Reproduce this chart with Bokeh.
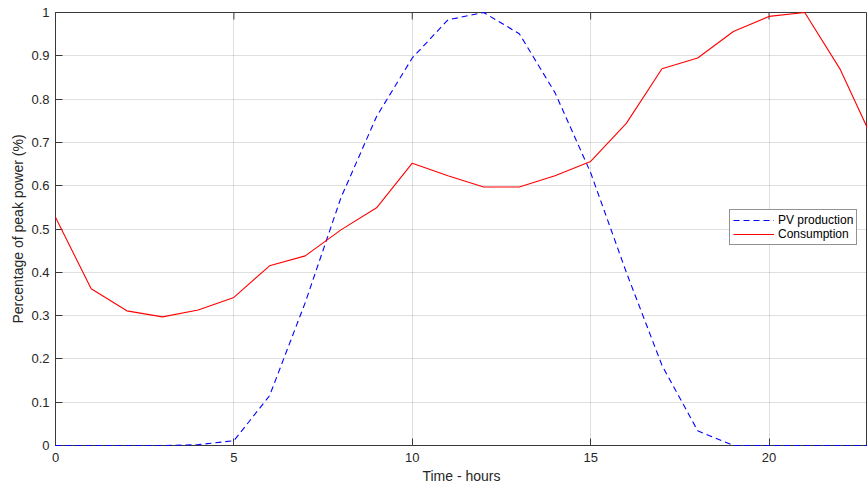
import math
from bokeh.plotting import figure
from bokeh.models import Range1d, FixedTicker, Legend, LegendItem
from bokeh.embed import file_html
from bokeh.resources import INLINE

hours = list(range(24))
pv_production = [0, 0, 0, 0, 0.002, 0.011, 0.115, 0.33, 0.572, 0.76, 0.895, 0.983,
                 1.0, 0.951, 0.815, 0.63, 0.40, 0.185, 0.034, 0, 0, 0, 0, 0]
consumption = [0.527, 0.362, 0.311, 0.297, 0.313, 0.342, 0.415, 0.438, 0.498, 0.549,
               0.652, 0.623, 0.597, 0.597, 0.623, 0.656, 0.744, 0.870, 0.895, 0.956,
               0.991, 1.0, 0.868, 0.69]
x_ticks = [0, 5, 10, 15, 20]
y_ticks = [0, 0.1, 0.2, 0.3, 0.4, 0.5, 0.6, 0.7, 0.8, 0.9, 1.0]
y_tick_labels = {0: "0", 0.1: "0.1", 0.2: "0.2", 0.3: "0.3", 0.4: "0.4", 0.5: "0.5",
                 0.6: "0.6", 0.7: "0.7", 0.8: "0.8", 0.9: "0.9", 1.0: "1"}
X_MAX = 22.76
Y_MAX = 1.0

FONT = "Liberation Sans"
AX = "#3a3a3a"

p = figure(width=867, height=486, output_backend="svg", toolbar_location=None,
           x_range=Range1d(0, X_MAX), y_range=Range1d(0, Y_MAX),
           min_border_left=55, min_border_right=0, min_border_top=12, min_border_bottom=10,
           x_axis_label="Time - hours", y_axis_label="Percentage of peak power (%)")
p.outline_line_color = AX
p.outline_line_width = 1
p.background_fill_color = "white"
p.border_fill_color = "white"

for ax in (p.xaxis[0], p.yaxis[0]):
    ax.axis_line_color = AX
    ax.major_tick_line_color = AX
    ax.major_tick_in = 7
    ax.major_tick_out = 0
    ax.minor_tick_line_color = None
    ax.major_label_text_font = FONT
    ax.major_label_text_font_size = "13px"
    ax.major_label_text_color = "#262626"
    ax.axis_label_text_font = FONT
    ax.axis_label_text_font_size = "14px"
    ax.axis_label_text_font_style = "normal"
    ax.axis_label_text_color = "#262626"

p.xaxis[0].ticker = FixedTicker(ticks=x_ticks)
p.yaxis[0].ticker = FixedTicker(ticks=y_ticks)
p.yaxis[0].major_label_overrides = y_tick_labels
p.xaxis[0].major_label_standoff = 7
p.xaxis[0].axis_label_standoff = 3
p.yaxis[0].major_label_standoff = 6
p.yaxis[0].axis_label_standoff = 2

p.xgrid.ticker = FixedTicker(ticks=x_ticks)
p.ygrid.ticker = FixedTicker(ticks=y_ticks)
for g in (p.xgrid[0], p.ygrid[0]):
    g.grid_line_color = "#262626"
    g.grid_line_alpha = 0.15
    g.grid_line_width = 1

# inward tick marks on the top edge of the box (MATLAB "box on" style)
p.scatter(x_ticks, [Y_MAX] * len(x_ticks), marker="dash", angle=math.pi / 2,
          size=14, line_color=AX, line_width=1)

r_pv = p.line(hours, pv_production, line_color="#0000ff", line_width=1.1,
              line_dash="6 4", level="overlay")
r_c = p.line(hours, consumption, line_color="#ff0000", line_width=1.1, level="overlay")

legend = Legend(items=[LegendItem(label="PV production", renderers=[r_pv]),
                       LegendItem(label="Consumption", renderers=[r_c])],
                location=(674, 200))
legend.border_line_color = "#262626"
legend.border_line_width = 1
legend.background_fill_color = "white"
legend.background_fill_alpha = 1
legend.label_text_font = FONT
legend.label_text_font_size = "12px"
legend.label_text_color = "#000000"
legend.glyph_width = 41
legend.glyph_height = 14
legend.label_height = 14
legend.label_standoff = 4
legend.spacing = 0
legend.padding = 3
legend.margin = 0
legend.label_text_line_height = 1.0
p.add_layout(legend, "center")

open("out.html", "w").write(file_html(p, INLINE))
